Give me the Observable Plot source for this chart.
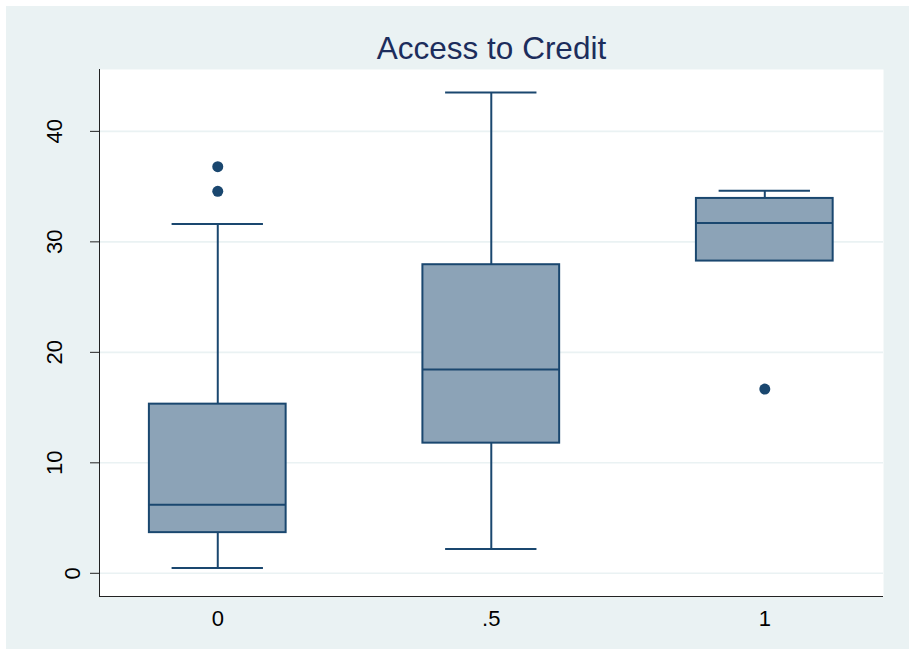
<!DOCTYPE html>
<html>
<head>
<meta charset="utf-8">
<script src="https://cdn.jsdelivr.net/npm/d3@7"></script>
<script src="https://cdn.jsdelivr.net/npm/@observablehq/plot@0.6"></script>
<style>
  html, body { margin: 0; padding: 0; background: #ffffff; }
  #wrap { padding: 6px 0 0 6px; width: 903px; height: 643px; }
  #wrap svg { background: #EAF2F3; display: block; }
</style>
</head>
<body>
<div id="wrap"></div>
<script>
// ---- data ----
const titleText = "Access to Credit";
const categories = [0, 0.5, 1];
const categoryLabels = ["0", ".5", "1"];
const lowerWhisker = [0.48, 2.2, 28.26];
const q1 = [3.68, 11.78, 28.26];
const median = [6.21, 18.45, 31.7];
const q3 = [15.31, 27.93, 33.93];
const upperWhisker = [31.61, 43.52, 34.63];
const outlierGroup = [0, 0, 1];
const outlierValue = [36.8, 34.57, 16.67];
const yTicks = [0, 10, 20, 30, 40];

// ---- build tables ----
const boxes = categories.map((c, i) => ({
  x: c, lo: lowerWhisker[i], q1: q1[i], med: median[i], q3: q3[i], hi: upperWhisker[i]
}));
const outliers = outlierGroup.map((g, i) => ({x: g, y: outlierValue[i]}));

const boxHalf = 0.125;   // half box width in x units
const capHalf = 0.0835;  // half whisker-cap width in x units
const xDomain = [-0.2162, 1.217];
const yDomain = [-2.1, 45.6];

const navy = "#1A476F";
const fill = "#8CA3B7";
const font = "Liberation Sans, Arial, Helvetica, sans-serif";

const chart = Plot.plot({
  width: 903,
  height: 643,
  marginLeft: 93,
  marginTop: 63,
  marginRight: 26,
  marginBottom: 53,
  style: {fontFamily: font, background: "#EAF2F3", overflow: "visible"},
  x: {domain: xDomain, axis: null},
  y: {domain: yDomain, axis: null},
  marks: [
    Plot.frame({fill: "white", stroke: null}),
    Plot.gridY(yTicks, {stroke: "#EAF2F3", strokeOpacity: 1, strokeWidth: 1.6}),
    // axis lines
    Plot.ruleX([xDomain[0]], {stroke: "#222", strokeWidth: 1}),
    Plot.ruleY([yDomain[0]], {stroke: "#222", strokeWidth: 1}),
    // y ticks
    Plot.axisY(yTicks, {tickSize: 9, tickFormat: () => "", stroke: "#222", label: null}),
    // whiskers
    Plot.ruleX(boxes, {x: "x", y1: "q3", y2: "hi", stroke: navy, strokeWidth: 2}),
    Plot.ruleX(boxes, {x: "x", y1: "lo", y2: "q1", stroke: navy, strokeWidth: 2}),
    Plot.ruleY(boxes, {y: "hi", x1: d => d.x - capHalf, x2: d => d.x + capHalf, stroke: navy, strokeWidth: 2}),
    Plot.ruleY(boxes.filter(d => d.lo < d.q1), {y: "lo", x1: d => d.x - capHalf, x2: d => d.x + capHalf, stroke: navy, strokeWidth: 2}),
    // boxes
    Plot.rect(boxes, {x1: d => d.x - boxHalf, x2: d => d.x + boxHalf, y1: "q1", y2: "q3",
      fill: fill, stroke: navy, strokeWidth: 2}),
    Plot.ruleY(boxes, {y: "med", x1: d => d.x - boxHalf, x2: d => d.x + boxHalf, stroke: navy, strokeWidth: 2}),
    // outliers
    Plot.dot(outliers, {x: "x", y: "y", r: 5.5, fill: navy, stroke: null}),
    // y tick labels (rotated)
    Plot.text(yTicks.filter(t => t !== 0), {y: d => d, frameAnchor: "left", dx: -44.5, rotate: -90,
      text: d => String(d), fontSize: 22, fill: "#000", textAnchor: "middle", lineAnchor: "middle"}),
    Plot.text(yTicks.filter(t => t === 0), {y: d => d, frameAnchor: "left", dx: -27, rotate: -90,
      text: d => String(d), fontSize: 22, fill: "#000", textAnchor: "middle", lineAnchor: "middle"}),
    // x tick labels
    Plot.text(categories, {x: d => d, frameAnchor: "bottom", dy: 22.5,
      text: (d, i) => categoryLabels[i], fontSize: 22, fill: "#000", textAnchor: "middle", lineAnchor: "middle"}),
    // title
    Plot.text([titleText], {frameAnchor: "top", dy: -20.5, text: d => d, fontSize: 31.5,
      fill: "#1C2D5C", textAnchor: "middle", lineAnchor: "middle"})
  ]
});
document.getElementById("wrap").appendChild(chart);
</script>
</body>
</html>
